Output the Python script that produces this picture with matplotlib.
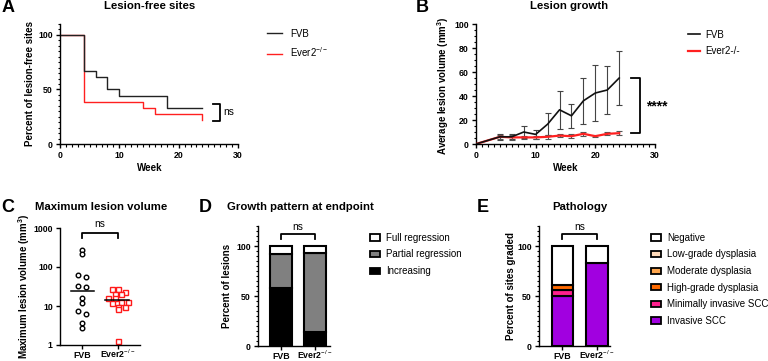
import numpy as np
import matplotlib
matplotlib.use("Agg")
import matplotlib.pyplot as plt
from matplotlib.ticker import MultipleLocator, NullLocator, FixedLocator
from matplotlib.patches import Patch
from matplotlib.lines import Line2D

plt.rcParams['font.family'] = ['Liberation Sans', 'DejaVu Sans']
plt.rcParams['mathtext.fontset'] = 'custom'
plt.rcParams['mathtext.rm'] = 'Liberation Sans'
plt.rcParams['mathtext.bf'] = 'Liberation Sans:bold'
plt.rcParams['mathtext.it'] = 'Liberation Sans:italic'

# ---------------- data ----------------
# A: lesion-free sites (Kaplan-Meier style)
a_fvb_week = [0, 4, 6, 8, 10, 18, 24]
a_fvb_pct = [100, 66.7, 61.1, 50.0, 44.4, 33.3, 33.3]
a_ever_week = [0, 4, 14, 16, 24, 24]
a_ever_pct = [100, 38.9, 33.3, 27.8, 22.2, 22.2]

# B: lesion growth
b_week = [0, 4, 6, 8, 10, 12, 14, 16, 18, 20, 22, 24]
b_fvb_mean = [0, 6.0, 6.0, 10.0, 8.0, 16.5, 28.5, 23.5, 36.0, 42.5, 45.0, 55.0]
b_fvb_sem = [0, 2.3, 2.0, 5.0, 3.5, 9.0, 16.0, 10.0, 19.0, 23.5, 20.3, 22.7]
b_ever_mean = [0, 6.0, 5.5, 5.5, 5.5, 6.0, 7.0, 6.5, 8.5, 6.5, 8.5, 9.0]
b_ever_sem = [0, 1.8, 1.8, 1.5, 1.5, 1.5, 1.5, 1.5, 1.5, 1.0, 1.2, 1.5]

# C: maximum lesion volume
c_fvb = [273, 212, 62, 56, 33, 31, 16.3, 12.2, 7.6, 6.2, 3.7, 2.8]
c_ever = [26.8, 26.8, 23.3, 20.3, 20.3, 15.7, 15.7, 12.9, 12.9, 11.7, 9.3, 9.3, 8.2, 1.3]

# D: growth pattern at endpoint
groups = ['FVB', 'Ever2$^{-/-}$']
d_increasing = [58.3, 14.3]
d_partial = [33.3, 78.6]
d_full = [8.3, 7.1]

# E: pathology
e_invasive = [50.0, 83.3]
e_minimal = [5.6, 0.0]
e_high = [5.6, 0.0]
e_moderate = [0.0, 0.0]
e_low = [0.0, 0.0]
e_negative = [38.8, 16.7]

# ---------------- layout ----------------
W, H = 768, 361
fig = plt.figure(figsize=(W / 100, H / 100), dpi=100)


def add_ax(l, t, r, b):
    return fig.add_axes([l / W, 1 - b / H, (r - l) / W, (b - t) / H])


def ftext(x, y, s, **kw):
    kw.setdefault('ha', 'center')
    kw.setdefault('va', 'center')
    return fig.text(x / W, 1 - y / H, s, **kw)


TICK_FS = 6.3
TITLE_FS = 8.2
LAB_FS = 7
LETTER_FS = 13
LEG_FS = 7.0


def style(ax):
    for sp in ['top', 'right']:
        ax.spines[sp].set_visible(False)
    for sp in ['left', 'bottom']:
        ax.spines[sp].set_linewidth(1.0)
    ax.tick_params(which='major', length=3.2, width=1.0, labelsize=TICK_FS, pad=2)
    ax.tick_params(which='minor', length=1.8, width=0.8)
    for lab in ax.get_xticklabels() + ax.get_yticklabels():
        lab.set_fontweight('bold')


def baseline_xlabels(ax):
    # category labels sit on a common baseline (superscripts rise above it)
    ax.tick_params(axis='x', which='major', pad=6.2)
    for t in ax.xaxis.get_major_ticks():
        t.label1.set_va('baseline')
        t.label1.set_fontweight('bold')


# ---------- A ----------
axA = add_ax(60, 24, 238, 144)
axA.step(a_ever_week, a_ever_pct, where='post', color='#ff2020', lw=1.0)
axA.step(a_fvb_week, a_fvb_pct, where='post', color='#222222', lw=1.0)
axA.set_xlim(0, 30)
axA.set_ylim(0, 110)
axA.xaxis.set_major_locator(FixedLocator([0, 10, 20, 30]))
axA.xaxis.set_minor_locator(MultipleLocator(1))
axA.yaxis.set_major_locator(FixedLocator([0, 50, 100]))
axA.yaxis.set_minor_locator(MultipleLocator(5))
style(axA)
axA.plot([25.8, 27, 27, 25.8], [37, 37, 21, 21], color='black', lw=1.3, clip_on=False)
axA.text(27.6, 29, 'ns', fontsize=7.3, va='center', ha='left', clip_on=False)
hA = [Line2D([], [], color='#222222', lw=1.0), Line2D([], [], color='#ff2020', lw=1.0)]
axA.legend(hA, ['FVB', 'Ever2$^{-/-}$'], loc='upper left', frameon=False, fontsize=LEG_FS,
           bbox_to_anchor=(262 / W, 1 - 24 / H), bbox_transform=fig.transFigure,
           handlelength=1.6, handletextpad=0.8, borderpad=0, labelspacing=0.65)
ftext(150, 6, 'Lesion-free sites', fontsize=TITLE_FS, fontweight='bold')
ftext(8, 8, 'A', fontsize=LETTER_FS, fontweight='bold')
ftext(30, 84, 'Percent of lesion-free sites', rotation=90, fontsize=LAB_FS, fontweight='bold')
ftext(150, 168, 'Week', fontsize=LAB_FS, fontweight='bold')

# ---------- B ----------
axB = add_ax(476, 24, 655, 144)
axB.errorbar(b_week[1:], b_fvb_mean[1:], yerr=b_fvb_sem[1:], fmt='none', ecolor='#444444',
             elinewidth=0.8, capsize=2, capthick=0.8, zorder=2)
axB.errorbar(b_week[1:], b_ever_mean[1:], yerr=b_ever_sem[1:], fmt='none', ecolor='#555555',
             elinewidth=0.8, capsize=2, capthick=0.8, zorder=2)
axB.plot(b_week, b_ever_mean, color='#ff2020', lw=1.6, zorder=3)
axB.plot(b_week, b_fvb_mean, color='#111111', lw=1.2, zorder=4)
axB.set_xlim(0, 30)
axB.set_ylim(0, 100)
axB.xaxis.set_major_locator(FixedLocator([0, 10, 20, 30]))
axB.xaxis.set_minor_locator(MultipleLocator(1))
axB.yaxis.set_major_locator(MultipleLocator(20))
axB.yaxis.set_minor_locator(MultipleLocator(5))
style(axB)
axB.plot([26.0, 27.5, 27.5, 26.0], [55, 55, 9, 9], color='black', lw=1.3, clip_on=False)
axB.text(30.3, 31, '****', fontsize=10, fontweight='bold', va='center', ha='center', clip_on=False)
hB = [Line2D([], [], color='#111111', lw=1.2), Line2D([], [], color='#ff2020', lw=1.6)]
axB.legend(hB, ['FVB', 'Ever2-/-'], loc='upper left', frameon=False, fontsize=LEG_FS,
           bbox_to_anchor=(683 / W, 1 - 25 / H), bbox_transform=fig.transFigure,
           handlelength=1.2, handletextpad=0.6, borderpad=0, labelspacing=0.65)
ftext(569, 6, 'Lesion growth', fontsize=TITLE_FS, fontweight='bold')
ftext(422, 8, 'B', fontsize=LETTER_FS, fontweight='bold')
ftext(443, 86, 'Average lesion volume (mm$^\\mathbf{3}$)', rotation=90, fontsize=LAB_FS, fontweight='bold')
ftext(566, 168, 'Week', fontsize=LAB_FS, fontweight='bold')

# ---------- C ----------
cL, cT, cR, cB = 60, 228, 140, 345
axC = add_ax(cL, cT, cR, cB)
c_xlim = (-0.61, 1.61)
axC.set_xlim(*c_xlim)
axC.set_yscale('log')
axC.set_ylim(1, 1000)
px_per_unit = (cR - cL) / (c_xlim[1] - c_xlim[0])
px_per_dec = (cB - cT) / 3.0


def swarm(vals, row_px=4.0, col_px=7.0):
    vals = np.asarray(vals, float)
    ys = np.log10(vals) * px_per_dec
    order = np.argsort(-ys)
    offs = np.zeros(len(vals))
    i = 0
    while i < len(order):
        top = ys[order[i]]
        grp = [order[i]]
        j = i + 1
        while j < len(order) and top - ys[order[j]] < row_px:
            grp.append(order[j])
            j += 1
        n = len(grp)
        for k, idx in enumerate(grp):
            offs[idx] = (k - (n - 1) / 2) * col_px
        i = j
    return offs / px_per_unit


xf = 0 + swarm(c_fvb, col_px=8.0)
xe = 1 + swarm(c_ever, col_px=6.5)
axC.plot(xf, c_fvb, 'o', ms=3.3, mfc='white', mec='black', mew=1.0, ls='none', clip_on=False)
axC.plot(xe, c_ever, 's', ms=3.6, mfc='white', mec='#ff1a1a', mew=1.0, ls='none', clip_on=False)
axC.plot([-0.3, 0.33], [np.median(c_fvb)] * 2, color='black', lw=1.1)
axC.plot([0.65, 1.3], [np.median(c_ever)] * 2, color='black', lw=1.1)
axC.set_xticks([0, 1])
axC.set_xticklabels(groups)
axC.yaxis.set_major_locator(FixedLocator([1, 10, 100, 1000]))
axC.yaxis.set_minor_locator(NullLocator())
axC.set_yticklabels(['1', '10', '100', '1000'])
style(axC)
baseline_xlabels(axC)
axC.plot([0, 0, 1, 1], [560, 745, 745, 560], color='black', lw=1.3, clip_on=False)
axC.text(0.5, 1250, 'ns', fontsize=7.3, ha='center', va='center', clip_on=False)
ftext(101, 207, 'Maximum lesion volume', fontsize=TITLE_FS, fontweight='bold')
ftext(8, 207, 'C', fontsize=LETTER_FS, fontweight='bold')
ftext(24, 286, 'Maximum lesion volume (mm$^\\mathbf{3}$)', rotation=90, fontsize=LAB_FS, fontweight='bold')


def bar_style(ax):
    ax.set_ylim(0, 120)
    ax.yaxis.set_major_locator(FixedLocator([0, 50, 100]))
    ax.yaxis.set_minor_locator(MultipleLocator(5))
    ax.set_xticks([0, 1])
    ax.set_xticklabels(groups)
    style(ax)
    baseline_xlabels(ax)


def stacked(ax, layers, colors, width):
    x = np.arange(2)
    bottom = np.zeros(2)
    for vals, col in zip(layers, colors):
        vals = np.asarray(vals, float)
        for k in range(2):
            if vals[k] > 0:
                ax.bar(x[k], vals[k], width=width, bottom=bottom[k], color=col,
                       edgecolor='black', linewidth=1.5, zorder=2)
        bottom += vals


# ---------- D ----------
axD = add_ax(258, 226, 330, 346)
axD.set_xlim(-0.676, 1.44)
d_colors = ['#000000', '#808080', '#ffffff']
stacked(axD, [d_increasing, d_partial, d_full], d_colors, 0.62)
bar_style(axD)
axD.plot([0, 0, 1, 1], [107.5, 111.7, 111.7, 107.5], color='black', lw=1.3, clip_on=False)
axD.text(0.5, 119, 'ns', fontsize=7.3, ha='center', va='center', clip_on=False)
hD = [Patch(facecolor=c, edgecolor='black', linewidth=1.3) for c in d_colors[::-1]]
axD.legend(hD, ['Full regression', 'Partial regression', 'Increasing'], loc='upper left',
           frameon=False, fontsize=LEG_FS, bbox_to_anchor=(365 / W, 1 - 228 / H),
           bbox_transform=fig.transFigure, handlelength=1.0, handleheight=0.6,
           handletextpad=0.7, borderpad=0, labelspacing=0.68)
ftext(300, 207, 'Growth pattern at endpoint', fontsize=TITLE_FS, fontweight='bold')
ftext(205, 207, 'D', fontsize=LETTER_FS, fontweight='bold')
ftext(227, 286, 'Percent of lesions', rotation=90, fontsize=LAB_FS, fontweight='bold')

# ---------- E ----------
axE = add_ax(539, 226, 610, 346)
axE.set_xlim(-0.68, 1.377)
e_colors = ['#a100e0', '#ff1f8e', '#ff6a00', '#ffa64d', '#ffdab9', '#ffffff']
stacked(axE, [e_invasive, e_minimal, e_high, e_moderate, e_low, e_negative], e_colors, 0.62)
bar_style(axE)
axE.plot([0, 0, 1, 1], [107.5, 111.7, 111.7, 107.5], color='black', lw=1.3, clip_on=False)
axE.text(0.5, 119, 'ns', fontsize=7.3, ha='center', va='center', clip_on=False)
hE = [Patch(facecolor=c, edgecolor='black', linewidth=1.3) for c in e_colors[::-1]]
axE.legend(hE, ['Negative', 'Low-grade dysplasia', 'Moderate dysplasia', 'High-grade dysplasia',
                'Minimally invasive SCC', 'Invasive SCC'], loc='upper left',
           frameon=False, fontsize=LEG_FS, bbox_to_anchor=(646 / W, 1 - 228 / H),
           bbox_transform=fig.transFigure, handlelength=1.0, handleheight=0.6,
           handletextpad=0.7, borderpad=0, labelspacing=0.68)
ftext(580, 207, 'Pathology', fontsize=TITLE_FS, fontweight='bold')
ftext(483, 207, 'E', fontsize=LETTER_FS, fontweight='bold')
ftext(511, 286, 'Percent of sites graded', rotation=90, fontsize=LAB_FS, fontweight='bold')

fig.savefig('out.png', dpi=100)
